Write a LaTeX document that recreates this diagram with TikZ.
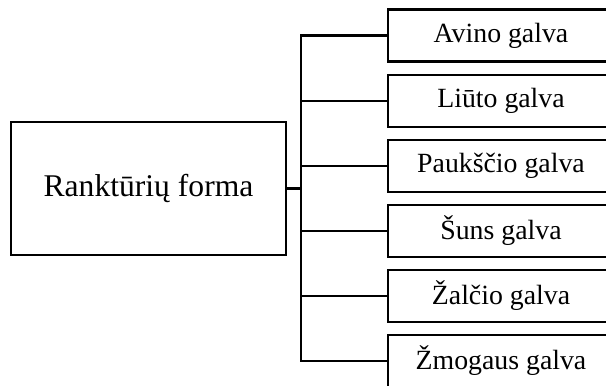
\documentclass[tikz,border=0pt]{standalone}
\usepackage{fontspec}
\setmainfont{Liberation Serif}
\usepackage{xcolor}
\usepackage{tikz}

\begin{document}
\begin{tikzpicture}[x=0.5pt,y=-0.5pt,
    pagrindas/.style={draw, line width=1.3pt, minimum width=137.5pt, minimum height=66.5pt, inner sep=0pt, font=\fontsize{15.8pt}{18pt}\selectfont},
    galva/.style={draw, line width=1.3pt, minimum width=113pt, minimum height=26pt, inner sep=0pt, font=\fontsize{13.9pt}{16pt}\selectfont},
    jungtis/.style={line width=1.3pt}]
                % ribos
                \clip (0,0) rectangle (606,386);

                % pagrindinis langelis
                \node[pagrindas] (forma) at (148.5,188.5) {Ranktūrių forma};

                % galvų langeliai
                \node[galva] (avino) at (501,35.5) {Avino galva};
                \node[galva] (liuto) at (501,101) {Liūto galva};
                \node[galva] (paukscio) at (501,166) {Paukščio galva};
                \node[galva] (suns) at (501,231) {Šuns galva};
                \node[galva] (zalcio) at (501,296) {Žalčio galva};
                \node[galva] (zmogaus) at (501,361) {Žmogaus galva};

                % jungtys
                \coordinate (bus) at (301,188.5);
                \draw[jungtis] (forma.east) -- (bus);
                \draw[jungtis] (avino.west) -- (avino.west -| bus) -- (zmogaus.west -| bus) -- (zmogaus.west);
                \draw[jungtis] (liuto.west) -- (liuto.west -| bus);
                \draw[jungtis] (paukscio.west) -- (paukscio.west -| bus);
                \draw[jungtis] (suns.west) -- (suns.west -| bus);
                \draw[jungtis] (zalcio.west) -- (zalcio.west -| bus);
\end{tikzpicture}
\end{document}
